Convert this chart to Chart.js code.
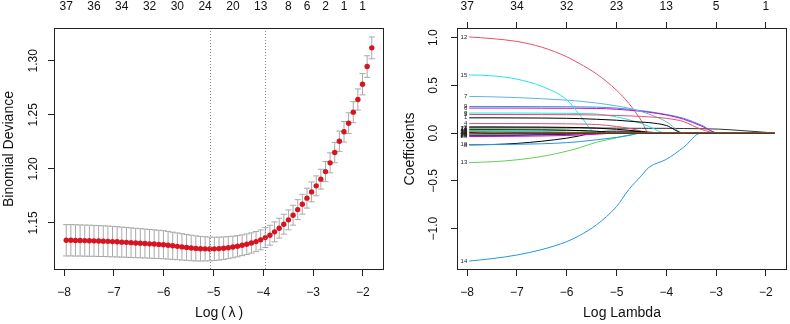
<!DOCTYPE html>
<html>
<head>
<meta charset="utf-8">
<title>glmnet cross-validation and coefficient paths</title>
<script src="https://cdn.jsdelivr.net/npm/chart.js@4.4.1/dist/chart.umd.min.js"></script>
<style>
  html, body { margin: 0; padding: 0; background: #fff; }
  #wrap { position: relative; width: 790px; height: 324px; }
  canvas { position: absolute; top: 0; }
  #cv-chart { left: 0; }
  #path-chart { left: 395px; }
</style>
</head>
<body>
<div id="wrap">
  <canvas id="cv-chart" width="395" height="324"></canvas>
  <canvas id="path-chart" width="395" height="324"></canvas>
</div>
<script>
// ---- Left panel: cross-validated binomial deviance ----
const logLambda = [
  -7.958, -7.865, -7.772, -7.679, -7.586, -7.493, -7.400, -7.307, -7.214, -7.121,
  -7.028, -6.935, -6.842, -6.749, -6.656, -6.563, -6.470, -6.377, -6.284, -6.191,
  -6.098, -6.005, -5.912, -5.819, -5.726, -5.633, -5.540, -5.447, -5.354, -5.261,
  -5.168, -5.075, -4.982, -4.889, -4.796, -4.703, -4.610, -4.517, -4.424, -4.331,
  -4.238, -4.145, -4.052, -3.959, -3.866, -3.773, -3.680, -3.587, -3.494, -3.401,
  -3.308, -3.215, -3.122, -3.029, -2.936, -2.843, -2.750, -2.657, -2.564, -2.471,
  -2.378, -2.285, -2.192, -2.099, -2.006, -1.913, -1.820
];
const cvMean = [
  1.1339, 1.1339, 1.1338, 1.1337, 1.1336, 1.1335, 1.1334, 1.1332, 1.1331, 1.1329,
  1.1327, 1.1325, 1.1322, 1.1320, 1.1317, 1.1314, 1.1312, 1.1309, 1.1306, 1.1304,
  1.1301, 1.1298, 1.1293, 1.1288, 1.1283, 1.1278, 1.1273, 1.1268, 1.1264, 1.1261,
  1.1260, 1.1259, 1.1260, 1.1262, 1.1266, 1.1271, 1.1277, 1.1284, 1.1293, 1.1303,
  1.1314, 1.1327, 1.1343, 1.1364, 1.1386, 1.1417, 1.1451, 1.1488, 1.1528, 1.1571,
  1.1623, 1.1673, 1.1729, 1.1787, 1.1843, 1.1905, 1.1975, 1.2056, 1.2151, 1.2256,
  1.2343, 1.2423, 1.2525, 1.2642, 1.2784, 1.2947, 1.3120
];
const cvSE = [
  0.0145, 0.0145, 0.0145, 0.0144, 0.0144, 0.0144, 0.0143, 0.0143, 0.0142, 0.0142,
  0.0141, 0.0140, 0.0139, 0.0138, 0.0137, 0.0136, 0.0135, 0.0134, 0.0133, 0.0132,
  0.0131, 0.0130, 0.0128, 0.0126, 0.0124, 0.0122, 0.0120, 0.0118, 0.0116, 0.0114,
  0.0112, 0.0110, 0.0108, 0.0106, 0.0104, 0.0102, 0.0100, 0.0098, 0.0096, 0.0095,
  0.0094, 0.0093, 0.0092, 0.0092, 0.0092, 0.0092, 0.0092, 0.0092, 0.0092, 0.0092,
  0.0092, 0.0092, 0.0092, 0.0092, 0.0092, 0.0092, 0.0093, 0.0093, 0.0094, 0.0094,
  0.0095, 0.0096, 0.0097, 0.0098, 0.0099, 0.0100, 0.0101
];
const lambdaMinLog = -5.075;
const lambda1seLog = -3.959;
const cvTopX = [-7.958, -7.400, -6.842, -6.284, -5.726, -5.168, -4.610, -4.052, -3.494, -3.122, -2.750, -2.378, -2.006];
const cvTopLabels = ['37', '36', '34', '32', '30', '24', '20', '13', '8', '6', '2', '1', '1'];
const cvYTicks = [1.15, 1.20, 1.25, 1.30];

// ---- Right panel: coefficient paths ----
const xTicks = [-8, -7, -6, -5, -4, -3, -2];
const pathTopX = [-8, -7, -6, -5, -4, -3, -2];
const pathTopLabels = ['37', '34', '32', '23', '13', '5', '1'];
const coefYTicks = [-1, -0.5, 0, 0.5, 1];
const pathX = [-7.958, -7.5, -7, -6.5, -6, -5.75, -5.4, -5, -4.75, -4.5, -4.35, -4, -3.65, -3.3, -2.95, -2.5, -2.2, -1.82];

const coef12 = [1.007, 0.99, 0.96, 0.90, 0.80, 0.73, 0.62, 0.45, 0.31, 0.13, 0, 0, 0, 0, 0, 0, 0, 0];
const coef15 = [0.61, 0.60, 0.565, 0.49, 0.35, 0.20, 0, 0, 0, 0, 0, 0, 0, 0, 0, 0, 0, 0];
const coef7  = [0.384, 0.38, 0.372, 0.36, 0.345, 0.335, 0.315, 0.285, 0.26, 0.225, 0.20, 0.12, 0, 0, 0, 0, 0, 0];
const coef9  = [0.279, 0.279, 0.278, 0.277, 0.276, 0.275, 0.272, 0.262, 0.25, 0.235, 0.225, 0.195, 0.155, 0.085, 0, 0, 0, 0];
const coef6  = [0.262, 0.262, 0.262, 0.261, 0.26, 0.26, 0.258, 0.25, 0.24, 0.228, 0.218, 0.19, 0.145, 0.075, 0, 0, 0, 0];
const coef3  = [0.21, 0.21, 0.21, 0.209, 0.207, 0.205, 0.2, 0.17, 0.14, 0.10, 0.07, 0, 0, 0, 0, 0, 0, 0];
const coef5  = [0.195, 0.195, 0.195, 0.194, 0.193, 0.192, 0.19, 0.185, 0.18, 0.175, 0.17, 0.155, 0.12, 0.04, 0, 0, 0, 0];
const coef1  = [0.16, 0.16, 0.159, 0.158, 0.155, 0.152, 0.145, 0.135, 0.125, 0.115, 0.11, 0.08, 0, 0, 0, 0, 0, 0];
const coef4  = [0.10, 0.10, 0.10, 0.099, 0.097, 0.095, 0.09, 0.07, 0.05, 0.02, 0, 0, 0, 0, 0, 0, 0, 0];
const coef2  = [0.065, 0.065, 0.064, 0.063, 0.06, 0.058, 0.052, 0.04, 0.03, 0.015, 0.005, 0, 0, 0, 0, 0, 0, 0];
const coef11 = [0.055, 0.055, 0.055, 0.055, 0.054, 0.054, 0.053, 0.052, 0.051, 0.05, 0.05, 0.05, 0.048, 0.046, 0.042, 0.027, 0.016, 0];
const coef27 = [0.045, 0.044, 0.042, 0.038, 0.03, 0.022, 0.01, 0, 0, 0, 0, 0, 0, 0, 0, 0, 0, 0];
const coef16 = [0.035, 0.035, 0.034, 0.033, 0.03, 0.027, 0.02, 0, 0, 0, 0, 0, 0, 0, 0, 0, 0, 0];
const coef17 = [0.025, 0.024, 0.022, 0.018, 0.01, 0.005, 0, 0, 0, 0, 0, 0, 0, 0, 0, 0, 0, 0];
const coef18 = [0.02, 0.019, 0.017, 0.012, 0, 0, 0, 0, 0, 0, 0, 0, 0, 0, 0, 0, 0, 0];
const coef19 = [0.015, 0.015, 0.014, 0.012, 0.008, 0.005, 0, 0, 0, 0, 0, 0, 0, 0, 0, 0, 0, 0];
const coef20 = [0.01, 0.009, 0.006, 0, 0, 0, 0, 0, 0, 0, 0, 0, 0, 0, 0, 0, 0, 0];
const coef21 = [0.008, 0.006, 0, 0, 0, 0, 0, 0, 0, 0, 0, 0, 0, 0, 0, 0, 0, 0];
const coef22 = [0.004, 0, 0, 0, 0, 0, 0, 0, 0, 0, 0, 0, 0, 0, 0, 0, 0, 0];
const coef23 = [-0.005, -0.004, 0, 0, 0, 0, 0, 0, 0, 0, 0, 0, 0, 0, 0, 0, 0, 0];
const coef24 = [-0.01, -0.009, -0.007, -0.004, 0, 0, 0, 0, 0, 0, 0, 0, 0, 0, 0, 0, 0, 0];
const coef25 = [-0.015, -0.014, -0.012, -0.009, -0.005, 0, 0, 0, 0, 0, 0, 0, 0, 0, 0, 0, 0, 0];
const coef26 = [-0.02, -0.019, -0.017, -0.014, -0.01, -0.006, 0, 0, 0, 0, 0, 0, 0, 0, 0, 0, 0, 0];
const coef29 = [-0.028, -0.027, -0.025, -0.02, -0.012, -0.006, 0, 0, 0, 0, 0, 0, 0, 0, 0, 0, 0, 0];
const coef28 = [-0.036, -0.035, -0.033, -0.03, -0.025, -0.02, -0.012, 0, 0, 0, 0, 0, 0, 0, 0, 0, 0, 0];
const coef8  = [-0.123, -0.12, -0.108, -0.085, -0.053, -0.03, 0.012, 0.02, 0.02, 0.015, 0.01, 0, 0, 0, 0, 0, 0, 0];
const coef10 = [-0.12, -0.119, -0.117, -0.112, -0.1, -0.09, -0.07, -0.045, -0.025, 0, 0, 0, 0, 0, 0, 0, 0, 0];
const coef13 = [-0.31, -0.30, -0.28, -0.245, -0.19, -0.155, -0.095, -0.05, -0.02, 0, 0, 0, 0, 0, 0, 0, 0, 0];
const coef14 = [-1.34, -1.315, -1.277, -1.22, -1.137, -1.075, -0.96, -0.77, -0.59, -0.447, -0.36, -0.275, -0.148, 0, 0, 0, 0, 0];

// label, values, colour (R palette)
const pathSeries = [
  ['22', coef22, '#000000'], ['21', coef21, '#F5C710'], ['20', coef20, '#CD0BBC'],
  ['23', coef23, '#DF536B'], ['24', coef24, '#61D04F'], ['25', coef25, '#2297E6'],
  ['19', coef19, '#28E2E5'], ['18', coef18, '#2297E6'], ['17', coef17, '#61D04F'],
  ['26', coef26, '#000000'], ['29', coef29, '#CD0BBC'], ['28', coef28, '#CD0BBC'],
  ['16', coef16, '#000000'], ['27', coef27, '#61D04F'], ['2', coef2, '#000000'],
  ['10', coef10, '#2297E6'], ['8', coef8, '#000000'], ['13', coef13, '#61D04F'],
  ['14', coef14, '#2297E6'], ['4', coef4, '#DF536B'], ['1', coef1, '#000000'],
  ['5', coef5, '#DF536B'], ['3', coef3, '#28E2E5'], ['15', coef15, '#28E2E5'],
  ['7', coef7, '#5ab6e2'], ['6', coef6, '#CD0BBC'], ['9', coef9, '#2297E6'],
  ['11', coef11, '#333333'], ['12', coef12, '#DF536B']
];

// ---- shared look ----
const FONT = '"Liberation Sans", Arial, Helvetica, sans-serif';
Chart.defaults.font.family = FONT;
Chart.defaults.color = '#111';

// R style range: data range stretched by 4%
function paddedRange(lo, hi) {
  const d = (hi - lo) * 0.04;
  return [lo - d, hi + d];
}
const [xMin, xMax] = paddedRange(logLambda[0], logLambda[logLambda.length - 1]);
const [cvYMin, cvYMax] = paddedRange(
  Math.min(...cvMean.map((m, i) => m - cvSE[i])),
  Math.max(...cvMean.map((m, i) => m + cvSE[i]))
);
const allCoefs = pathSeries.flatMap(s => s[1]);
const [coefYMin, coefYMax] = paddedRange(Math.min(...allCoefs), Math.max(...allCoefs));

function signed(v, digits) {
  return (v < 0 ? '\u2212' : '') + Math.abs(v).toFixed(digits);
}

function bottomAxis(title) {
  return {
    type: 'linear', position: 'bottom', min: xMin, max: xMax,
    afterBuildTicks: axis => { axis.ticks = xTicks.map(v => ({ value: v })); },
    afterFit: axis => { axis.height = 54; },
    ticks: { autoSkip: false, maxRotation: 0, padding: 9, font: { size: 12 }, callback: v => signed(v, 0) },
    grid: { drawOnChartArea: false, tickLength: 6, color: '#222' },
    border: { display: false },
    title: { display: true, text: title, font: { size: 14 }, color: '#111', padding: { top: 0, bottom: 2 } }
  };
}

function topAxis(xs, labels, tickLen, pad) {
  return {
    type: 'linear', position: 'top', min: xMin, max: xMax,
    afterBuildTicks: axis => { axis.ticks = xs.map(v => ({ value: v })); },
    afterFit: axis => { axis.height = 28; },
    ticks: { autoSkip: false, maxRotation: 0, padding: pad, font: { size: 12 }, callback: (v, i) => labels[i] },
    grid: { display: tickLen > 0, drawOnChartArea: false, drawTicks: tickLen > 0, tickLength: tickLen, color: '#222' },
    border: { display: false }
  };
}

function leftAxis(min, max, ticks, digits, width, pad, title, titlePad) {
  return {
    type: 'linear', position: 'left', min: min, max: max,
    afterBuildTicks: axis => { axis.ticks = ticks.map(v => ({ value: v })); },
    afterFit: axis => { axis.width = width; },
    ticks: { minRotation: 90, maxRotation: 90, crossAlign: 'center', padding: pad, font: { size: 12 }, callback: v => signed(v, digits) },
    grid: { drawOnChartArea: false, tickLength: 6, color: '#222' },
    border: { display: false },
    title: { display: true, text: title, font: { size: 14 }, color: '#111', padding: { top: titlePad, bottom: 0 } }
  };
}

// box around the plotting region
const plotBox = {
  id: 'plotBox',
  afterDraw(chart) {
    const { ctx, chartArea: a } = chart;
    ctx.save();
    ctx.strokeStyle = '#222';
    ctx.lineWidth = 1;
    ctx.strokeRect(Math.round(a.left) + 0.5, Math.round(a.top) + 0.5,
      Math.round(a.right - a.left) - 1, Math.round(a.bottom - a.top) - 1);
    ctx.restore();
  }
};

// grey error bars (mean +/- se) with small caps
const errorBars = {
  id: 'errorBars',
  beforeDatasetsDraw(chart) {
    const { ctx, scales: { x, y } } = chart;
    const capHalf = 0.01 * (logLambda[logLambda.length - 1] - logLambda[0]);
    ctx.save();
    ctx.strokeStyle = '#a9a9a9';
    ctx.lineWidth = 1;
    ctx.beginPath();
    logLambda.forEach((lx, i) => {
      const px = x.getPixelForValue(lx);
      const hi = y.getPixelForValue(cvMean[i] + cvSE[i]);
      const lo = y.getPixelForValue(cvMean[i] - cvSE[i]);
      const c0 = x.getPixelForValue(lx - capHalf);
      const c1 = x.getPixelForValue(lx + capHalf);
      ctx.moveTo(px, hi); ctx.lineTo(px, lo);
      ctx.moveTo(c0, hi); ctx.lineTo(c1, hi);
      ctx.moveTo(c0, lo); ctx.lineTo(c1, lo);
    });
    ctx.stroke();
    ctx.restore();
  }
};

// dotted lines at lambda.min and lambda.1se
const refLines = {
  id: 'refLines',
  afterDatasetsDraw(chart) {
    const { ctx, chartArea: a, scales: { x } } = chart;
    ctx.save();
    ctx.strokeStyle = '#8a8a8a';
    ctx.lineWidth = 1;
    ctx.setLineDash([1, 2]);
    [lambdaMinLog, lambda1seLog].forEach(v => {
      const px = Math.round(x.getPixelForValue(v)) + 0.5;
      ctx.beginPath();
      ctx.moveTo(px, a.top);
      ctx.lineTo(px, a.bottom);
      ctx.stroke();
    });
    ctx.restore();
  }
};

// tiny variable numbers at the left end of each path (clipped like R)
const pathLabels = {
  id: 'pathLabels',
  afterDatasetsDraw(chart) {
    const { ctx, chartArea: a, scales: { x, y } } = chart;
    ctx.save();
    ctx.beginPath();
    ctx.rect(a.left, a.top, a.right - a.left, a.bottom - a.top);
    ctx.clip();
    ctx.font = '6px ' + FONT;
    ctx.fillStyle = '#222';
    ctx.textAlign = 'right';
    ctx.textBaseline = 'middle';
    const px = x.getPixelForValue(pathX[0]) - 2;
    pathSeries.forEach(([label, vals]) => {
      ctx.fillText(label, px, y.getPixelForValue(vals[0]));
    });
    ctx.restore();
  }
};

new Chart(document.getElementById('cv-chart'), {
  type: 'scatter',
  data: {
    datasets: [{
      data: logLambda.map((lx, i) => ({ x: lx, y: cvMean[i] })),
      pointRadius: 2.7,
      pointBackgroundColor: '#d7141f',
      pointBorderWidth: 0,
      borderWidth: 0
    }]
  },
  options: {
    responsive: false,
    animation: false,
    events: [],
    layout: { padding: { top: 0, right: 11, bottom: 0, left: 0 } },
    plugins: { legend: { display: false }, tooltip: { enabled: false } },
    scales: {
      x: bottomAxis('Log\u2009(\u2009\u03bb\u2009)'),
      xTop: topAxis(cvTopX, cvTopLabels, 0, 14),
      y: leftAxis(cvYMin, cvYMax, cvYTicks, 2, 54, 3, 'Binomial Deviance', 1)
    }
  },
  plugins: [errorBars, refLines, plotBox]
});

new Chart(document.getElementById('path-chart'), {
  type: 'line',
  data: {
    datasets: pathSeries.map(([label, vals, color]) => ({
      label: label,
      data: pathX.map((lx, j) => ({ x: lx, y: vals[j] })),
      borderColor: color,
      borderWidth: 1,
      pointRadius: 0,
      fill: false,
      cubicInterpolationMode: 'monotone'
    }))
  },
  options: {
    responsive: false,
    animation: false,
    events: [],
    layout: { padding: { top: 0, right: 3, bottom: 0, left: 0 } },
    plugins: { legend: { display: false }, tooltip: { enabled: false } },
    scales: {
      x: bottomAxis('Log Lambda'),
      xTop: topAxis(pathTopX, pathTopLabels, 6, 8),
      y: leftAxis(coefYMin, coefYMax, coefYTicks, 1, 62, 5, 'Coefficients', 7)
    }
  },
  plugins: [pathLabels, plotBox]
});
</script>
</body>
</html>
